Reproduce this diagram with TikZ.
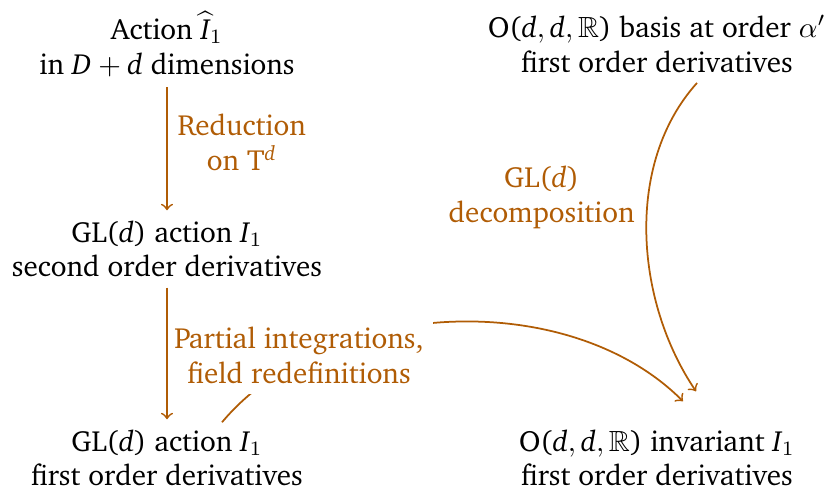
\documentclass[tikz,border=0pt]{standalone}
\usepackage[T1]{fontenc}
\usepackage{charter}
\usepackage{amssymb}
\usetikzlibrary{calc}
\definecolor{rust}{rgb}{0.69,0.36,0.02}
% math letters in Charter italic
\DeclareSymbolFont{chit}{T1}{bch}{m}{it}
\DeclareMathSymbol{d}{\mathalpha}{chit}{`d}
\DeclareMathSymbol{D}{\mathalpha}{chit}{`D}
\DeclareMathSymbol{I}{\mathalpha}{chit}{`I}

\begin{document}
\begin{tikzpicture}[x=0.343pt,y=-0.343pt,
    stage/.style={align=center},
    flow/.style={->,draw=rust,semithick},
    how/.style={align=center,text=rust}]

    % Frame is 829 by 496px.
    \useasboundingbox (0,0) rectangle (829,496);

    % Left column
    \node[stage] (act) at (167,44) {Action $\widehat{I}_1$\\ in $D+d$ dimensions};
    \node[stage] (sec) at (167,249) {GL($d$) action $I_1$\\ second order derivatives};
    \node[stage] (first) at (167,458) {GL($d$) action $I_1$\\ first order derivatives};

    % Right column
    \node[stage] (basis) at (657,44) {O($d,d,\mathbb{R}$) basis at order $\alpha'$\\ first order derivatives};
    \node[stage] (inv) at (657,458) {O($d,d,\mathbb{R}$) invariant $I_1$\\ first order derivatives};

    % curved ones
    \draw[flow] ($(first.north)+(55,3)$) to[out=50,in=135,looseness=0.9]
        node[how,pos=0.2,fill=white,yshift=2pt] (pif) {Partial integrations,\\ field redefinitions}
        ($(inv.north)+(26,-18)$);
    \draw[flow] ($(basis.south)+(40,0)$) to[out=228,in=124,looseness=0.9]
        node[how,pos=0.39,left=1pt] (dec) {GL($d$)\\ decomposition}
        ($(inv.north)+(39,-28)$);

    % straight ones
    \draw[flow] (act) -- node[how,right,pos=0.45] (red) {Reduction\\ on T$^d$} (sec);
    \draw[flow] (sec) -- (first);

\end{tikzpicture}
\end{document}
